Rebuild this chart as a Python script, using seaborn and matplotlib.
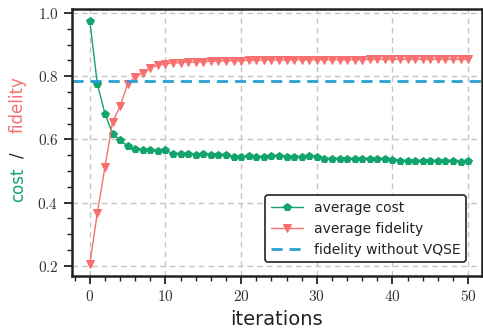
import numpy as np
import pandas as pd
import seaborn as sns
import matplotlib.pyplot as plt
from matplotlib.ticker import MultipleLocator, FuncFormatter

# dane
iterations = list(range(51))
cost = [0.973, 0.774, 0.681, 0.618, 0.597, 0.579, 0.569, 0.566, 0.565, 0.562,
        0.565, 0.555, 0.554, 0.552, 0.551, 0.552, 0.550, 0.549, 0.549, 0.545,
        0.545, 0.546, 0.545, 0.545, 0.546, 0.547, 0.545, 0.545, 0.545, 0.547,
        0.545, 0.539, 0.538, 0.538, 0.537, 0.537, 0.537, 0.538, 0.537, 0.537,
        0.535, 0.532, 0.531, 0.530, 0.530, 0.531, 0.531, 0.530, 0.531, 0.529,
        0.530]
fidelity = [0.207, 0.368, 0.512, 0.655, 0.704, 0.776, 0.797, 0.811, 0.827, 0.834,
            0.839, 0.841, 0.843, 0.844, 0.845, 0.846, 0.847, 0.848, 0.848, 0.849,
            0.849, 0.850, 0.850, 0.851, 0.851, 0.851, 0.851, 0.852, 0.852, 0.852,
            0.852, 0.852, 0.852, 0.852, 0.852, 0.852, 0.852, 0.853, 0.853, 0.853,
            0.853, 0.853, 0.853, 0.853, 0.853, 0.853, 0.853, 0.853, 0.853, 0.853,
            0.853]
fid_no_vqse = 0.785

green = '#13a36c'
red = '#f7706f'
blue = '#2b9fd4'

df = pd.DataFrame({"iteration": iterations, "cost": cost, "fidelity": fidelity})

sns.set_theme(style="ticks")
plt.rcParams['font.family'] = ['DejaVu Sans']
plt.rcParams['mathtext.fontset'] = 'cm'

fig = plt.figure(figsize=(4.83, 3.34), dpi=100)
ax = fig.add_axes([0.1484, 0.1737, 0.849, 0.799])

sns.lineplot(data=df, x="iteration", y="cost", ax=ax, color=green, marker='p',
             markersize=5.5, markeredgecolor=green, linewidth=1.0, label='average cost')
sns.lineplot(data=df, x="iteration", y="fidelity", ax=ax, color=red, marker='v',
             markersize=5.5, markeredgecolor=red, linewidth=1.0, label='average fidelity')
ax.axhline(fid_no_vqse, color=blue, linestyle=(0, (4, 2.5)), linewidth=2,
           label='fidelity without VQSE')

ax.set_xlim(-2.4, 51.8)
ax.set_ylim(0.1675, 1.012)
ax.xaxis.set_major_locator(MultipleLocator(10))
ax.xaxis.set_minor_locator(MultipleLocator(2))
ax.yaxis.set_major_locator(MultipleLocator(0.2))
ax.yaxis.set_minor_locator(MultipleLocator(0.05))
ax.xaxis.set_major_formatter(FuncFormatter(lambda v, p: r'$%d$' % v))
ax.yaxis.set_major_formatter(FuncFormatter(lambda v, p: r'$%.1f$' % v))

ax.tick_params(which='major', direction='out', length=6, width=1.3, labelsize=11,
               colors='#222222', labelcolor='#333333')
ax.tick_params(which='minor', direction='out', length=3.5, width=1.0, colors='#222222')
for s in ax.spines.values():
    s.set_linewidth(1.8)
    s.set_color('#222222')

ax.grid(True, which='major', linestyle=(0, (4, 3)), color='#c4c4c4', linewidth=1.0)
ax.set_axisbelow(True)

ax.set_xlabel('iterations', fontsize=14, color='#222222', labelpad=4)
ax.set_ylabel('')

# kolorowy opis osi y
fig.text(0.037, 0.446, 'cost', rotation=90, color=green, fontsize=12, ha='center', va='center')
fig.text(0.037, 0.536, '/', rotation=90, color='#222222', fontsize=12, ha='center', va='center')
fig.text(0.037, 0.686, 'fidelity', rotation=90, color=red, fontsize=12, ha='center', va='center')

leg = ax.legend(loc='lower right', bbox_to_anchor=(0.962, 0.052), borderaxespad=0,
                fontsize=10, frameon=True, fancybox=True, framealpha=1,
                edgecolor='#222222', handlelength=2.3, labelspacing=0.5)
leg.get_frame().set_linewidth(1.2)
for t in leg.get_texts():
    t.set_color('#222222')

fig.savefig('out.png', dpi=100)
